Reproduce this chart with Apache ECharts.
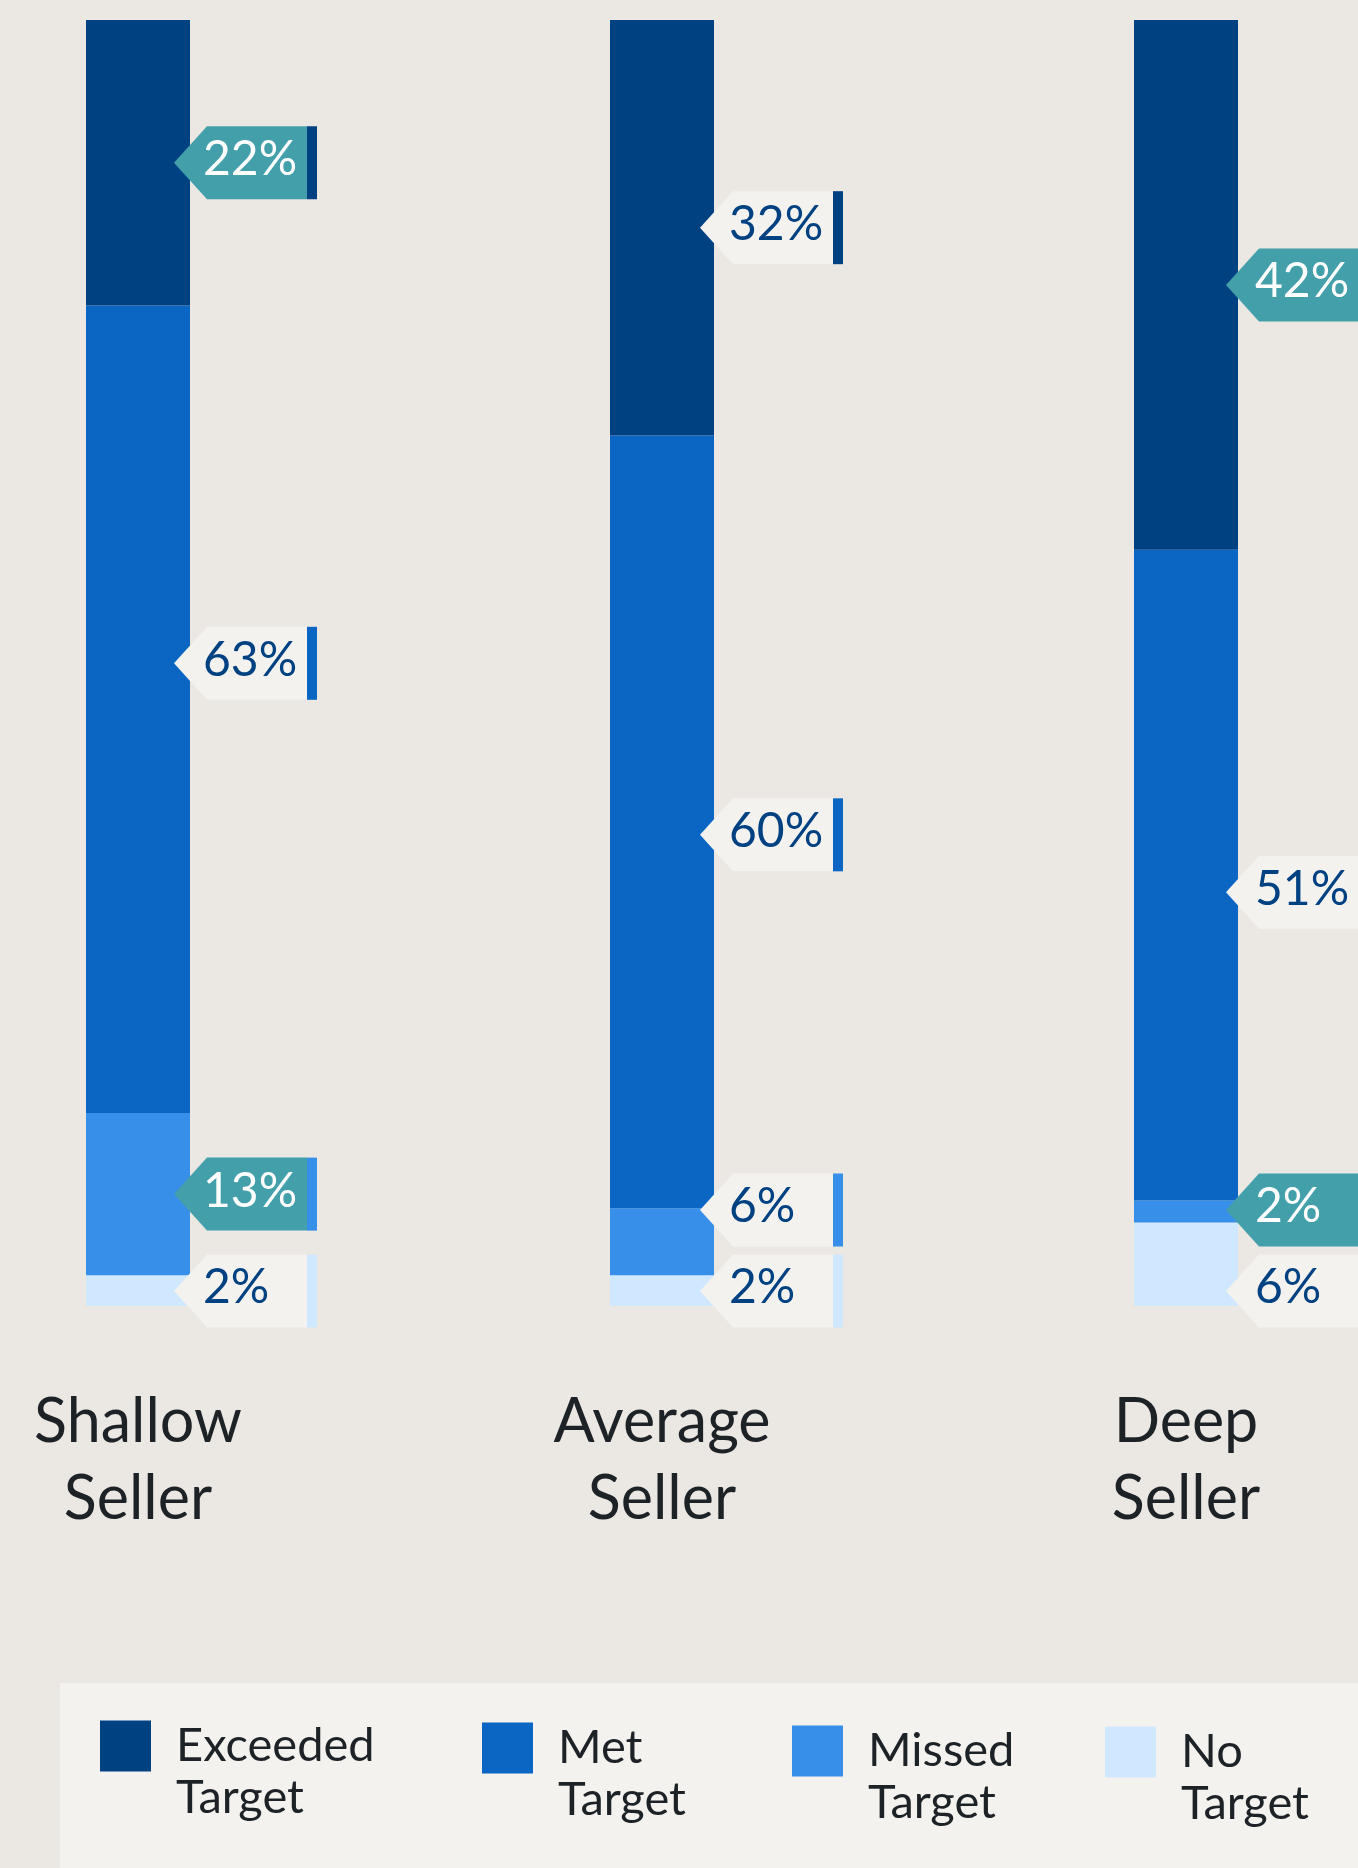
<!DOCTYPE html>
<html>
<head>
<meta charset="utf-8">
<script src="https://cdn.jsdelivr.net/npm/echarts@6/dist/echarts.min.js"></script>
<style>
html, body { margin: 0; padding: 0; background: #ebe7e3; }
#chart { width: 1358px; height: 1868px; }
</style>
</head>
<body>
<div id="chart"></div>
<script>
var categories = ['Shallow\nSeller', 'Average\nSeller', 'Deep\nSeller'];
var seriesNames = ['Exceeded\nTarget', 'Met\nTarget', 'Missed\nTarget', 'No\nTarget'];

// bar heights (share of sellers, %)
var exceeded = [22.2, 32.3, 41.2];
var met = [62.8, 60.1, 50.6];
var missed = [12.6, 5.2, 1.7];
var noTarget = [2.4, 2.4, 6.5];

// numbers printed on the tags
var exceededTags = [22, 32, 42];
var metTags = [63, 60, 51];
var missedTags = [13, 6, 2];
var noTargetTags = [2, 2, 6];

// top to bottom
var segs = [exceeded, met, missed, noTarget];
var tags = [exceededTags, metTags, missedTags, noTargetTags];
var colors = ['#004182', '#0a66c2', '#378fe9', '#d0e8ff'];

// tags drawn in teal: [category, segment]
var hotTags = [[0, 0], [0, 2], [2, 0], [2, 2]];
// the "met" tags are not sitting on the middle of their block
var metNudge = [-46, 13, 17];

var TAG_H = 73, TAG_GAP = 8;

function isHot(ci, s) {
	for (var i = 0; i < hotTags.length; i++) {
		if (hotTags[i][0] == ci && hotTags[i][1] == s) return true;
	}
	return false;
}

// tag centre (px) for each segment of one bar, pushed apart from the bottom up
function tagCenters(api, ci) {
	var total = 0, cum = 0, ys = [];
	for (var s = 0; s < segs.length; s++) total += segs[s][ci];
	for (var s = 0; s < segs.length; s++) {
		var v = segs[s][ci];
		var mid = total - cum - v / 2;
		cum += v;
		ys.push(api.coord([ci, mid])[1] + (s == 1 ? metNudge[ci] : 0));
	}
	var bottom = api.coord([ci, 0])[1];
	var out = ys.slice();
	var last = out.length - 1;
	out[last] = Math.max(ys[last], bottom - 15);
	for (var s = last - 1; s >= 0; s--) {
		out[s] = Math.min(ys[s], out[s + 1] - TAG_H - TAG_GAP);
	}
	return out;
}

var barSeries = [];
for (var i = segs.length - 1; i >= 0; i--) {
	barSeries.push({
		name: seriesNames[i],
		type: 'bar',
		stack: 'all',
		barWidth: 104,
		silent: true,
		data: segs[i],
		itemStyle: { color: colors[i] }
	});
}

var tagData = [];
categories.forEach(function (c, ci) {
	for (var s = 0; s < segs.length; s++) tagData.push([ci, 0, s]);
});

var tagSeries = {
	type: 'custom',
	silent: true,
	z: 5,
	data: tagData,
	renderItem: function (params, api) {
		var ci = api.value(0), s = api.value(2);
		var cx = api.coord([ci, 0])[0];
		var cy = tagCenters(api, ci)[s];
		var hot = isHot(ci, s);
		var tip = cx + 36 + ci * 2, left = cx + 69 + ci * 2, right = left + 100, h = TAG_H;
		return {
			type: 'group',
			children: [
				{
					type: 'polygon',
					shape: { points: [[tip, cy], [left, cy - h / 2], [right, cy - h / 2], [right, cy + h / 2], [left, cy + h / 2]] },
					style: { fill: hot ? '#43a0ab' : '#f3f2ef' }
				},
				{
					type: 'rect',
					shape: { x: right, y: cy - h / 2, width: 10, height: h },
					style: { fill: colors[s] }
				},
				{
					type: 'text',
					style: {
						text: tags[s][ci] + '%',
						x: left - 4,
						y: cy - 3,
						verticalAlign: 'middle',
						font: '48px Lato',
						fill: hot ? '#ffffff' : '#004182'
					}
				}
			]
		};
	}
};

var legendLeft = [100, 482, 792, 1105];
var legendTop = [1668, 1670, 1673, 1674];

var chart = echarts.init(document.getElementById('chart'));
chart.setOption({
	backgroundColor: '#ebe7e3',
	animation: false,
	grid: { left: 138, right: 172, top: 20, bottom: 562 },
	xAxis: {
		type: 'category',
		data: categories,
		boundaryGap: false,
		axisLine: { show: false },
		axisTick: { show: false },
		axisLabel: {
			interval: 0,
			margin: 78,
			fontFamily: 'Lato',
			fontSize: 61,
			lineHeight: 77,
			color: '#1d2226'
		}
	},
	yAxis: { type: 'value', min: 0, max: 100, show: false },
	graphic: [{
		type: 'rect',
		left: 60,
		top: 1683,
		shape: { width: 1298, height: 185 },
		style: { fill: '#f3f2ef' },
		z: 0
	}],
	legend: seriesNames.map(function (n, i) {
		return {
			data: [n],
			left: legendLeft[i],
			top: legendTop[i],
			padding: 0,
			icon: 'rect',
			itemWidth: 51,
			itemHeight: 51,
			selectedMode: false,
			// empty first line so the first word lines up with the swatch
			formatter: function (name) { return '\n' + name; },
			textStyle: {
				fontFamily: 'Lato',
				fontSize: 47,
				lineHeight: 52,
				color: '#1d2226',
				padding: [0, 0, 0, 20]
			}
		};
	}),
	series: barSeries.concat([tagSeries])
});
</script>
</body>
</html>
